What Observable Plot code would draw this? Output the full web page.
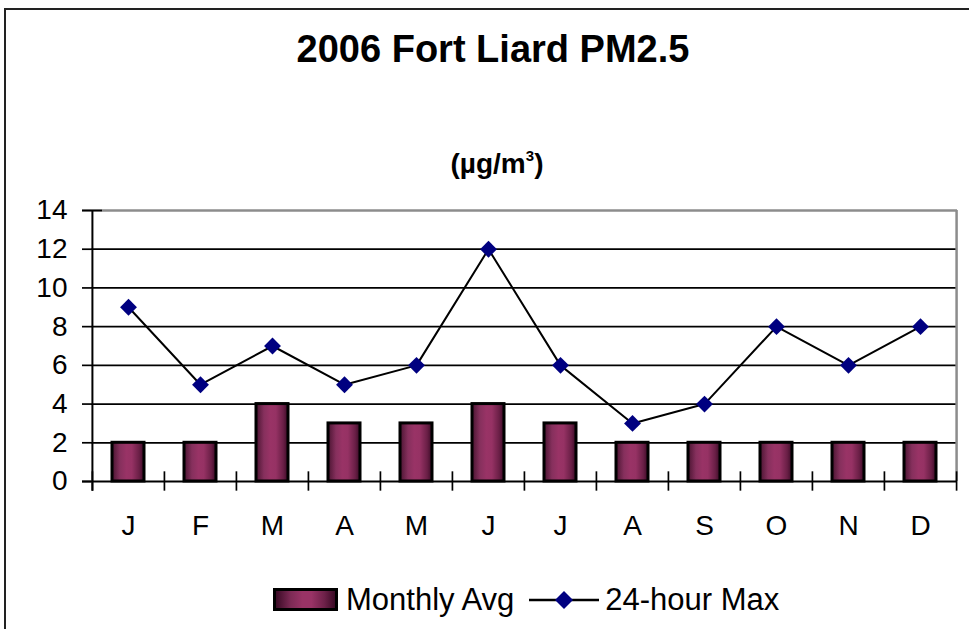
<!DOCTYPE html>
<html>
<head>
<meta charset="utf-8">
<script src="https://cdn.jsdelivr.net/npm/d3@7"></script>
<script src="https://cdn.jsdelivr.net/npm/@observablehq/plot@0.6"></script>
<style>
  html, body { margin: 0; padding: 0; background: #fff; width: 969px; height: 629px; overflow: hidden; }
  body { position: relative; font-family: "Liberation Sans", Arial, sans-serif; color: #000; }
  #outer { position: absolute; left: 4px; top: 8px; width: 2000px; height: 2000px; border-left: 2px solid #222; border-top: 2px solid #222; }
  #title { position: absolute; left: 0; width: 986px; top: 30px; text-align: center; font-weight: bold; font-size: 38px; line-height: 1; }
  #subtitle { position: absolute; left: 0; width: 994px; top: 150px; text-align: center; font-weight: bold; font-size: 28px; line-height: 1; }
  #subtitle sup { font-size: 15px; vertical-align: 12px; line-height: 0; }
  #chart { position: absolute; left: 0; top: 190px; }
  #legend { position: absolute; left: 273px; top: 584px; display: flex; align-items: center; font-size: 31px; line-height: 1; white-space: nowrap; }
  #legend .sw { width: 59px; height: 17px; border: 3px solid #000; background: linear-gradient(to right, #3a0a25, #7d2a55 25%, #993366 45%, #993366 60%, #6e2149 82%, #3a0a25); }
</style>
</head>
<body>
<div id="outer"></div>
<div id="title">2006 Fort Liard PM2.5</div>
<div id="subtitle">(µg/m<sup>3</sup>)</div>
<div id="chart"></div>
<div id="legend">
  <span class="sw"></span>
  <span style="margin-left:8px">Monthly Avg</span>
  <svg width="76" height="30" style="margin-left:15px">
    <line x1="0" y1="15" x2="70" y2="15" stroke="#000" stroke-width="2.5"></line>
    <path d="M35,6 L44,15 L35,24 L26,15 Z" fill="#000080"></path>
  </svg>
  <span>24-hour Max</span>
</div>
<script>
const months = ["J","F","M","A","M","J","J","A","S","O","N","D"];
const monthlyAvg = [2,2,4,3,3,4,3,2,2,2,2,2];
const max24h = [9,5,7,5,6,12,6,3,4,8,6,8];
const yTicks = [0,2,4,6,8,10,12,14];

const data = months.map((m, i) => ({i, m, avg: monthlyAvg[i], max: max24h[i]}));

const W = 969, H = 360, mL = 91, mR = 12, mT = 20, mB = 69;
const bw = (W - mL - mR) / months.length;
const half = bw / 2;

const plot = Plot.plot({
  width: W, height: H,
  marginLeft: mL, marginRight: mR, marginTop: mT, marginBottom: mB,
  style: {fontFamily: "'Liberation Sans', Arial, sans-serif", color: "#000", background: "transparent", overflow: "visible"},
  x: {type: "band", domain: d3.range(months.length), padding: 0, label: null},
  y: {domain: [0, 14], label: null},
  marks: [
    Plot.ruleY(yTicks.filter(t => t > 0 && t < 14), {stroke: "#000", strokeWidth: 1.7}),
    Plot.ruleY([14], {stroke: "#8c8c8c", strokeWidth: 2.5}),
    Plot.ruleX([months.length - 1], {dx: half, y1: 0, y2: 14, stroke: "#8c8c8c", strokeWidth: 2.5}),
    Plot.ruleY([14], {stroke: "#000", strokeWidth: 1.7, insetLeft: -9, insetRight: W - mL - mR - 11}),
    Plot.barY(data, {x: "i", y: "avg", fill: "url(#barGrad)", stroke: "#000", strokeWidth: 3, insetLeft: 20, insetRight: 20}),
    Plot.line(data, {x: "i", y: "max", stroke: "#000", strokeWidth: 2}),
    Plot.dot(data, {x: "i", y: "max", symbol: "diamond2", r: 7.6, fill: "#000080", stroke: "none"}),
    Plot.ruleY([0], {stroke: "#000", strokeWidth: 2, insetLeft: -9}),
    Plot.ruleX([0], {dx: -half, y1: -0.5, y2: 14, stroke: "#000", strokeWidth: 2}),
    Plot.ruleX(d3.range(months.length), {dx: -half, y1: -0.5, y2: 0.5, stroke: "#000", strokeWidth: 1.7}),
    Plot.ruleX([months.length - 1], {dx: half, y1: -0.5, y2: 0.5, stroke: "#000", strokeWidth: 1.7}),
    Plot.axisY(yTicks, {tickSize: 9, tickPadding: 15, fontSize: 28, stroke: "#000", strokeWidth: 1.7, label: null}),
    Plot.axisX({tickSize: 0, tickPadding: 34, fontSize: 28, tickFormat: i => months[i], label: null})
  ]
});

const ns = "http://www.w3.org/2000/svg";
const defs = document.createElementNS(ns, "defs");
const grad = document.createElementNS(ns, "linearGradient");
grad.setAttribute("id", "barGrad");
grad.setAttribute("x1", "0"); grad.setAttribute("x2", "1");
grad.setAttribute("y1", "0"); grad.setAttribute("y2", "0");
[[0, "#4a1431"], [0.25, "#86305d"], [0.45, "#993366"], [0.62, "#963264"], [0.85, "#6a1f46"], [1, "#3a0a25"]].forEach(([o, c]) => {
  const s = document.createElementNS(ns, "stop");
  s.setAttribute("offset", o);
  s.setAttribute("stop-color", c);
  grad.appendChild(s);
});
defs.appendChild(grad);
plot.insertBefore(defs, plot.firstChild);
document.getElementById("chart").appendChild(plot);
</script>
</body>
</html>
